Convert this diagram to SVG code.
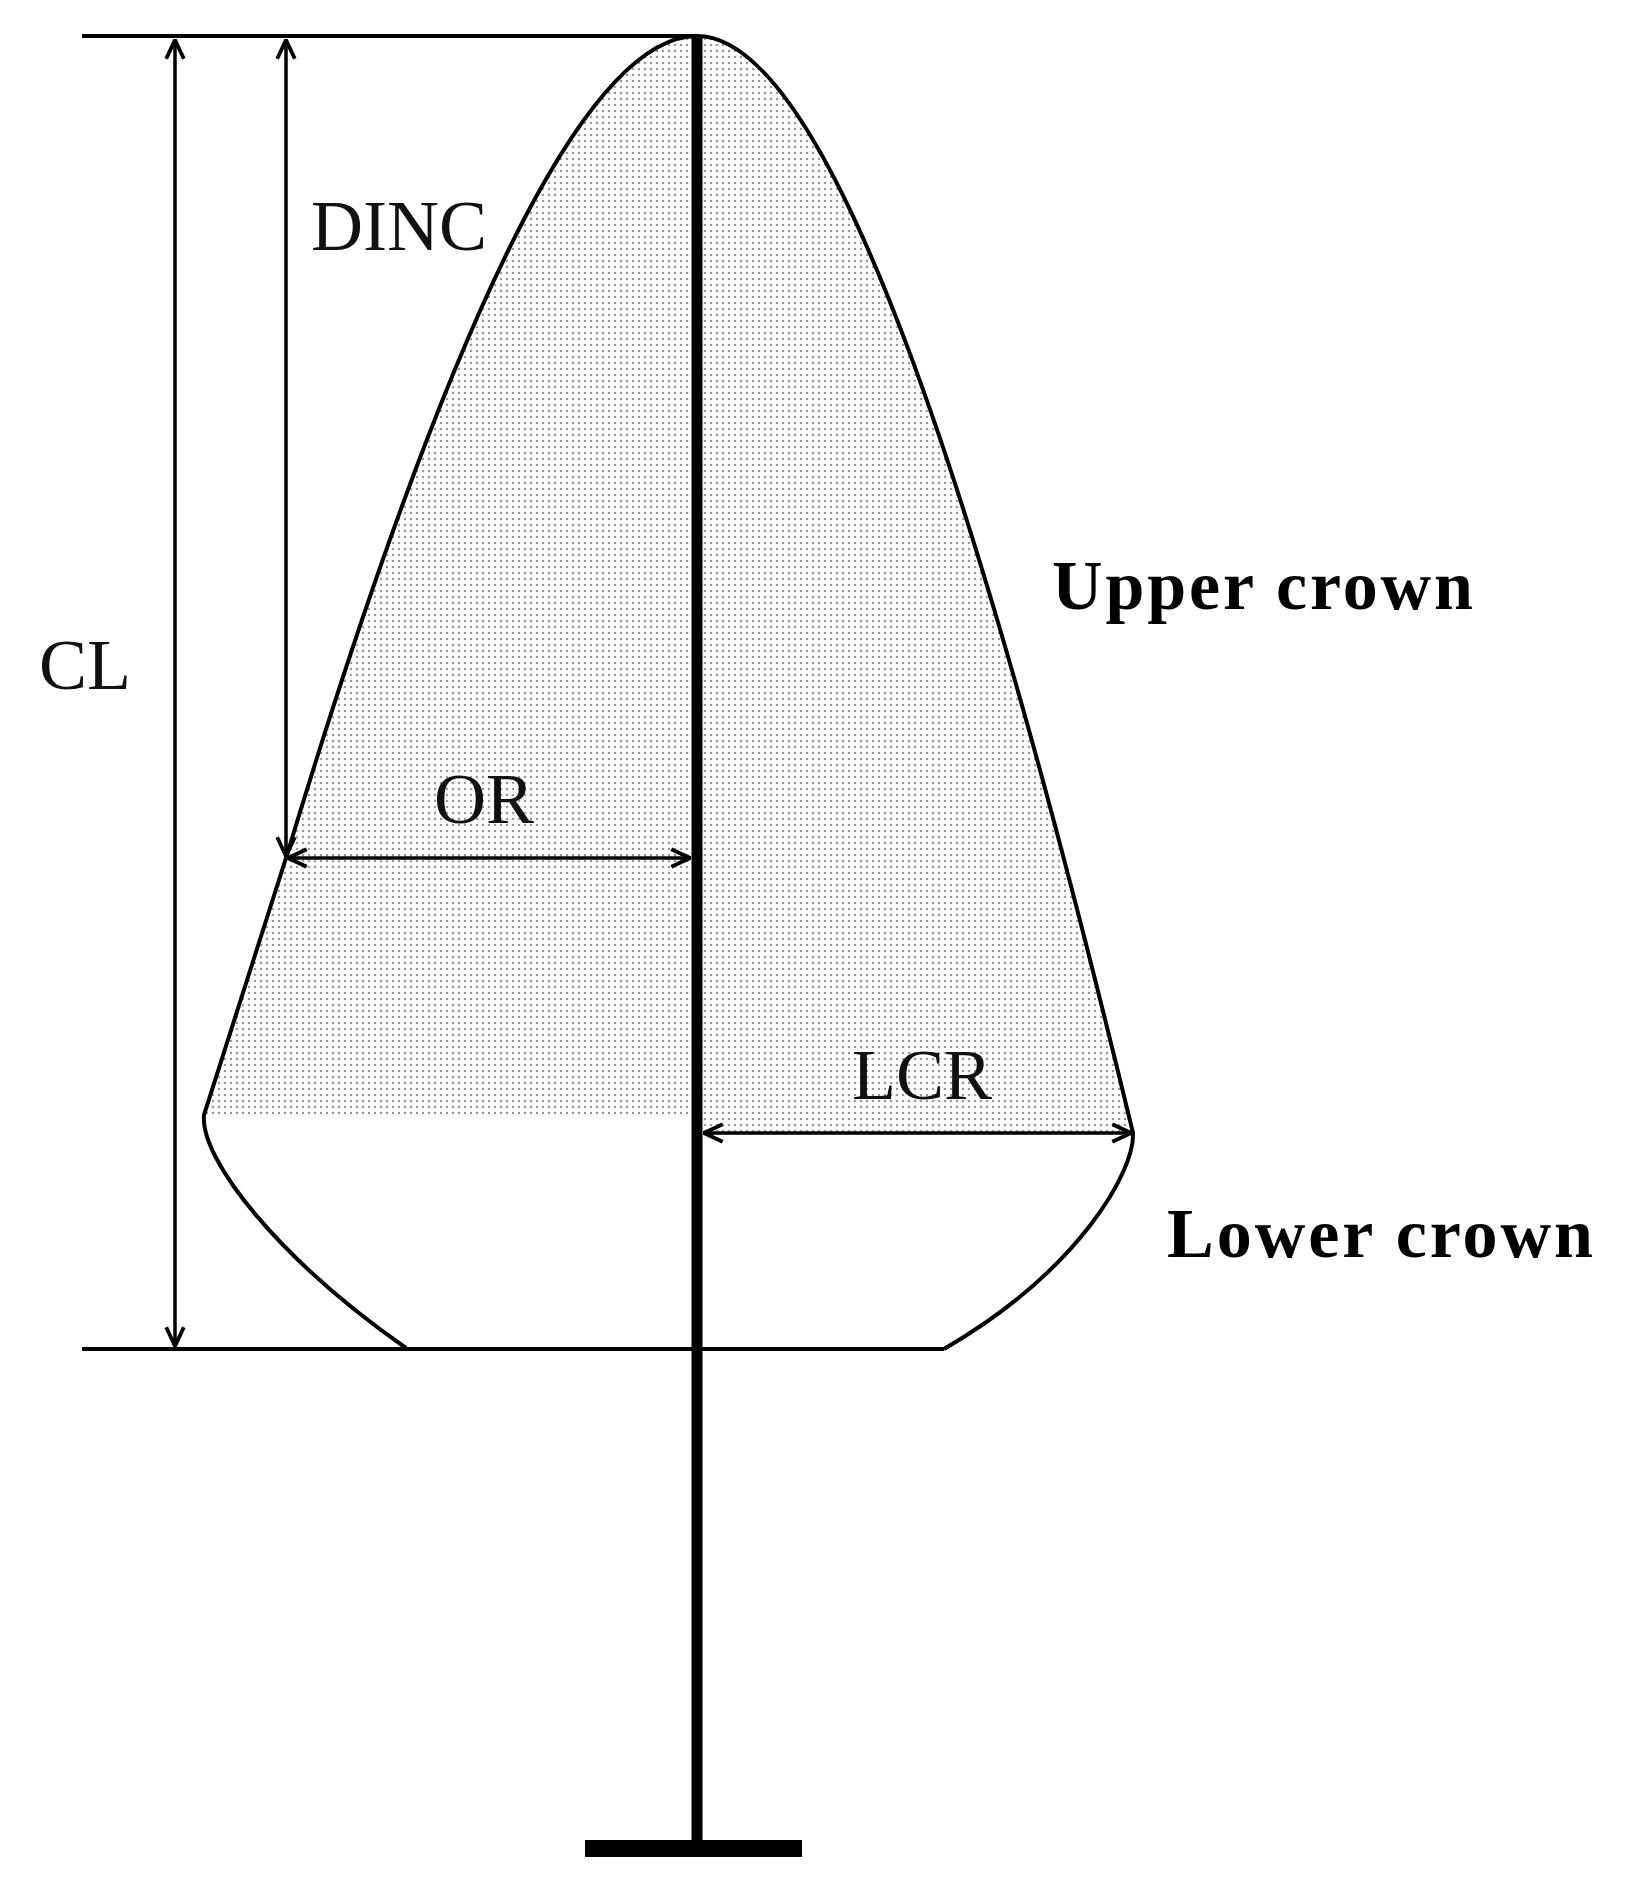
<svg xmlns="http://www.w3.org/2000/svg" width="1632" height="1888" viewBox="0 0 1632 1888">
<defs>
<pattern id="dots" width="6" height="6" patternUnits="userSpaceOnUse">
<circle cx="3" cy="3" r="1.3" fill="#9a9a9a"/>
</pattern>
<marker id="ah" viewBox="0 0 20 20" refX="19" refY="10" markerWidth="22" markerHeight="22" markerUnits="userSpaceOnUse" orient="auto-start-reverse">
<path d="M2,2 L19,10 L2,18" fill="none" stroke="#000" stroke-width="3.5"/>
</marker>
<style>
.ln{stroke:#000;fill:none;stroke-width:4}
.dim{stroke:#000;fill:none;stroke-width:3.5;marker-start:url(#ah);marker-end:url(#ah)}
.lab{font-family:"Liberation Serif",serif;font-size:72px;fill:#111}
.bold{font-family:"Liberation Serif",serif;font-size:70px;font-weight:bold;fill:#000}
</style>
</defs>
<rect width="1632" height="1888" fill="#fff"/>
<g id="crown">
<path d="M697,36 C600,36 470,250 286,858 L204,1118 L697,1118 L697,1133 L1133,1133 C980,500 830,36 697,36 Z" fill="url(#dots)"/>
<path class="ln" d="M697,36 C600,36 470,250 286,858 L204,1115 C200,1160 280,1260 406,1348"/>
<path class="ln" d="M697,36 C830,36 980,500 1133,1133 C1135,1170 1080,1270 944,1349"/>
</g>
<g id="trunk">
<line x1="697" y1="36" x2="697" y2="1845" stroke="#000" stroke-width="11"/>
<rect x="585" y="1840" width="217" height="17" fill="#000"/>
</g>
<g id="connectors">
<line class="ln" x1="82" y1="36" x2="697" y2="36"/>
<line class="ln" x1="82" y1="1349" x2="944" y2="1349"/>
<line class="dim" x1="175" y1="40" x2="175" y2="1346"/>
<line class="dim" x1="286" y1="40" x2="286" y2="856"/>
<line class="dim" x1="288" y1="858" x2="690" y2="858"/>
<line class="dim" x1="704" y1="1133" x2="1131" y2="1133"/>
</g>
<g id="labels">
<text class="lab" x="311" y="250">DINC</text>
<text class="lab" x="39" y="689">CL</text>
<text class="lab" x="434" y="823">OR</text>
<text class="lab" x="852" y="1099">LCR</text>
<text class="bold" x="1052" y="609" textLength="421" lengthAdjust="spacing">Upper crown</text>
<text class="bold" x="1167" y="1257" textLength="426" lengthAdjust="spacing">Lower crown</text>
</g>
</svg>
